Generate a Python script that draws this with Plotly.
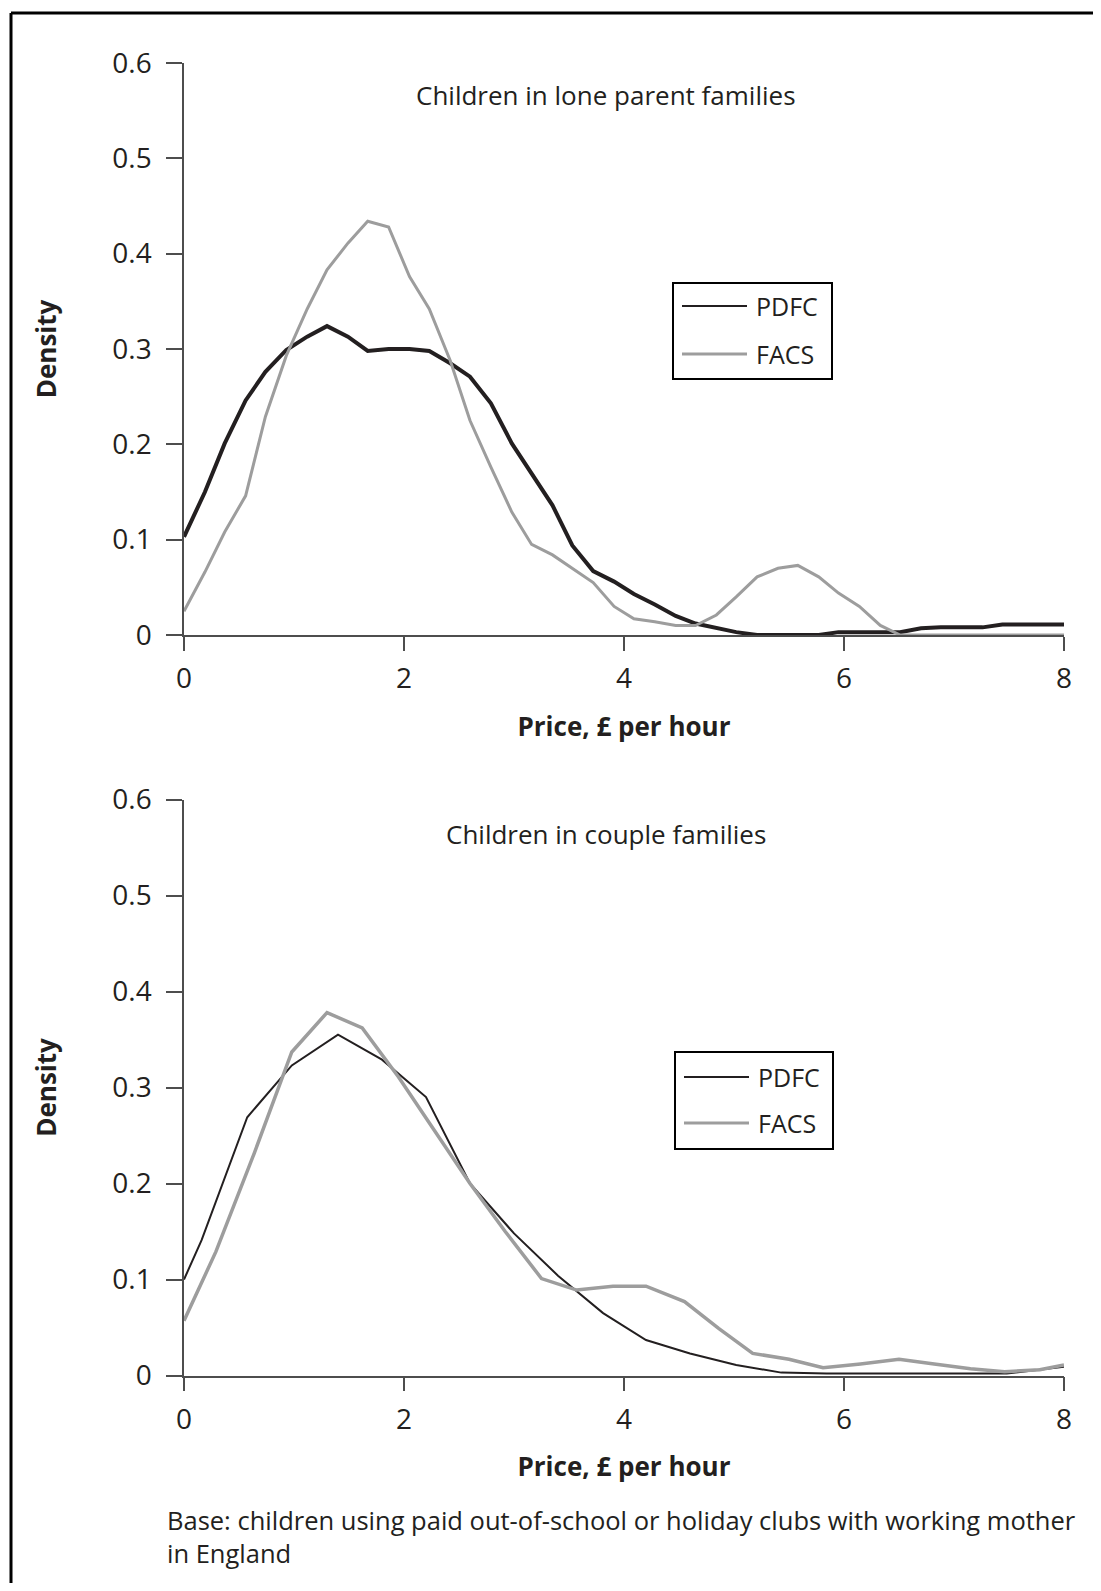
import plotly.graph_objects as go

# page / figure geometry (the page body keeps its default 8px margin)
PAGE_W, PAGE_H = 1101, 1591
OFF = 8
W, H = PAGE_W - 2 * OFF, PAGE_H - 2 * OFF

# ---------------- data ----------------
price_top = [0.00, 0.19, 0.37, 0.56, 0.74, 0.93, 1.12, 1.30, 1.49, 1.67, 1.86, 2.05, 2.23, 2.42,
             2.60, 2.79, 2.98, 3.16, 3.35, 3.53, 3.72, 3.91, 4.09, 4.28, 4.47, 4.65, 4.84, 5.02,
             5.21, 5.40, 5.58, 5.77, 5.95, 6.14, 6.33, 6.51, 6.70, 6.88, 7.07, 7.26, 7.44, 7.63,
             7.81, 8.00]
lone_pdfc = [0.103, 0.150, 0.201, 0.246, 0.276, 0.299, 0.313, 0.324, 0.313, 0.298, 0.300, 0.300,
             0.298, 0.285, 0.271, 0.243, 0.201, 0.169, 0.136, 0.094, 0.067, 0.056, 0.043, 0.032,
             0.020, 0.012, 0.007, 0.003, 0.000, 0.000, 0.000, 0.000, 0.003, 0.003, 0.003, 0.003,
             0.007, 0.008, 0.008, 0.008, 0.011, 0.011, 0.011, 0.011]
lone_facs = [0.025, 0.066, 0.108, 0.146, 0.229, 0.293, 0.342, 0.383, 0.411, 0.434, 0.428, 0.376,
             0.342, 0.288, 0.225, 0.176, 0.129, 0.095, 0.084, 0.070, 0.055, 0.030, 0.017, 0.014,
             0.010, 0.010, 0.021, 0.040, 0.061, 0.070, 0.073, 0.061, 0.044, 0.030, 0.010, 0.000,
             0.000, 0.000, 0.000, 0.000, 0.000, 0.000, 0.000, 0.000]

price_couple_pdfc = [0.00, 0.16, 0.575, 0.98, 1.40, 1.80, 2.20, 2.60, 3.00, 3.40, 3.81, 4.20,
                     4.60, 5.02, 5.43, 5.84, 6.25, 6.66, 7.07, 7.48, 8.00]
couple_pdfc = [0.100, 0.141, 0.269, 0.323, 0.355, 0.329, 0.290, 0.200, 0.148, 0.104, 0.065,
               0.037, 0.023, 0.011, 0.003, 0.002, 0.002, 0.002, 0.002, 0.002, 0.009]
price_couple_facs = [0.00, 0.29, 0.64, 0.98, 1.30, 1.62, 1.95, 2.27, 2.60, 2.92, 3.25, 3.57,
                     3.90, 4.20, 4.55, 4.86, 5.17, 5.50, 5.81, 6.15, 6.50, 6.82, 7.15, 7.46,
                     7.78, 8.00]
couple_facs = [0.057, 0.129, 0.232, 0.337, 0.378, 0.362, 0.311, 0.256, 0.200, 0.150, 0.101,
               0.089, 0.093, 0.093, 0.077, 0.049, 0.023, 0.017, 0.008, 0.012, 0.017, 0.012,
               0.007, 0.004, 0.006, 0.011]

x_ticks = [0, 2, 4, 6, 8]
y_ticks = [0, 0.1, 0.2, 0.3, 0.4, 0.5, 0.6]
y_tick_text = ["0", "0.1", "0.2", "0.3", "0.4", "0.5", "0.6"]

panel_titles = ["Children in lone parent families", "Children in couple families"]
series_names = ["PDFC", "FACS"]
x_title = "Price, £ per hour"
y_title = "Density"
footnote = "Base: children using paid out-of-school or holiday clubs with working mother<br>in England"

# ---------------- style ----------------
FONT = "Open Sans"
TXT = "#231f20"
AX = "#4d4d4d"
BLACK = "#231f20"
GREY = "#9d9d9d"


def fx(p):
    """page pixel x -> paper fraction"""
    return (p - OFF) / W


def fy(p):
    """page pixel y -> paper fraction"""
    return 1 - (p - OFF) / H


fig = go.Figure()

fig.add_trace(go.Scatter(x=price_top, y=lone_pdfc, mode="lines", name=series_names[0],
                         line=dict(color=BLACK, width=4), xaxis="x", yaxis="y", showlegend=False))
fig.add_trace(go.Scatter(x=price_top, y=lone_facs, mode="lines", name=series_names[1],
                         line=dict(color=GREY, width=3), xaxis="x", yaxis="y", showlegend=False))
fig.add_trace(go.Scatter(x=price_couple_pdfc, y=couple_pdfc, mode="lines", name=series_names[0],
                         line=dict(color=BLACK, width=2), xaxis="x2", yaxis="y2", showlegend=False))
fig.add_trace(go.Scatter(x=price_couple_facs, y=couple_facs, mode="lines", name=series_names[1],
                         line=dict(color=GREY, width=3.5), xaxis="x2", yaxis="y2", showlegend=False))

xdom = [fx(184), fx(1064)]
xaxis_common = dict(range=[0, 8], tickvals=x_ticks, ticks="outside", ticklen=14, tickwidth=1.5,
                    tickcolor=AX, showline=True, linecolor=AX, linewidth=1.5, showgrid=False,
                    zeroline=False, tickfont=dict(family=FONT, size=28, color=TXT),
                    ticklabelstandoff=4, automargin=False,
                    title=dict(text=x_title, font=dict(family=FONT, size=26, color=TXT, weight="bold"),
                               standoff=22))
yaxis_common = dict(range=[0, 0.6], tickvals=y_ticks, ticktext=y_tick_text, ticks="outside",
                    ticklen=16, tickwidth=1.5, tickcolor=AX, showline=True, linecolor=AX,
                    linewidth=1.5, showgrid=False, zeroline=False, automargin=False,
                    tickfont=dict(family=FONT, size=28, color=TXT), ticklabelstandoff=9,
                    title=dict(text=y_title, font=dict(family=FONT, size=26, color=TXT, weight="bold"),
                               standoff=48))

fig.update_layout(
    width=W, height=H, margin=dict(l=0, r=0, t=0, b=0, pad=0, autoexpand=False), autosize=False,
    paper_bgcolor="white", plot_bgcolor="white", showlegend=False,
    font=dict(family=FONT, color=TXT),
    xaxis=dict(domain=xdom, anchor="y", **xaxis_common),
    yaxis=dict(domain=[fy(635), fy(63)], anchor="x", **yaxis_common),
    xaxis2=dict(domain=xdom, anchor="y2", **xaxis_common),
    yaxis2=dict(domain=[fy(1375.5), fy(799.5)], anchor="x2", **yaxis_common),
)

shapes = []
annotations = []

# outer frame (open at right and bottom edges of the picture)
shapes.append(dict(type="line", xref="paper", yref="paper", x0=fx(11), x1=fx(PAGE_W - OFF),
                   y0=fy(13), y1=fy(13), line=dict(color="black", width=3)))
shapes.append(dict(type="line", xref="paper", yref="paper", x0=fx(11), x1=fx(11),
                   y0=fy(13), y1=fy(PAGE_H - OFF), line=dict(color="black", width=3)))

# panel titles
for title, ty in zip(panel_titles, [95, 834]):
    annotations.append(dict(text=title, xref="paper", yref="paper", x=fx(606), y=fy(ty),
                            xanchor="center", yanchor="middle", showarrow=False,
                            font=dict(family=FONT, size=26, color=TXT)))

# legends (boxed, one per panel)
for (bx0, bx1, by0, by1, r1, r2) in [(673, 832, 283, 379, 306, 354),
                                     (675, 833, 1052, 1149, 1077, 1123)]:
    shapes.append(dict(type="rect", xref="paper", yref="paper", x0=fx(bx0), x1=fx(bx1),
                       y0=fy(by1), y1=fy(by0), line=dict(color="black", width=2),
                       fillcolor="white"))
    for name, ry, col, lw in [(series_names[0], r1, BLACK, 2), (series_names[1], r2, GREY, 3)]:
        shapes.append(dict(type="line", xref="paper", yref="paper", x0=fx(bx0 + 9),
                           x1=fx(bx0 + 74), y0=fy(ry), y1=fy(ry), line=dict(color=col, width=lw)))
        annotations.append(dict(text=name, xref="paper", yref="paper", x=fx(bx0 + 81), y=fy(ry),
                                xanchor="left", yanchor="middle", showarrow=False,
                                font=dict(family=FONT, size=25, color=TXT)))

# footnote
annotations.append(dict(text=footnote, xref="paper", yref="paper", x=fx(165), y=fy(1536),
                        xanchor="left", yanchor="middle", align="left", showarrow=False,
                        font=dict(family=FONT, size=25.5, color=TXT)))

fig.update_layout(shapes=shapes, annotations=annotations)

fig.write_html("out.html", config={"displayModeBar": False})
